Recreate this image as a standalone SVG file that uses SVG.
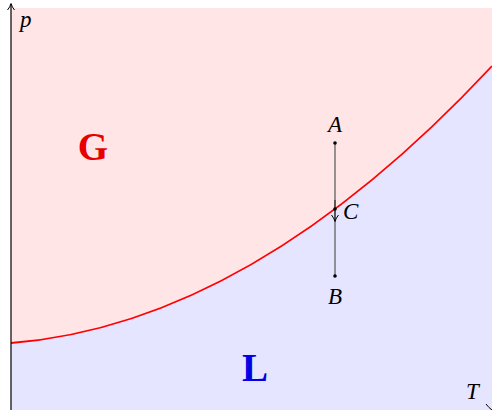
<svg xmlns="http://www.w3.org/2000/svg" width="492" height="410" viewBox="0 0 492 410">
<style>
.lbl{font-family:"Liberation Serif",serif;font-style:italic;font-size:23px;fill:#000}
.big{font-family:"Liberation Serif",serif;font-weight:bold;font-size:39px}
.dot{fill:#000}
</style>
<defs>
<marker id="ah" markerWidth="8" markerHeight="8" refX="6" refY="4" orient="auto" markerUnits="userSpaceOnUse">
<path d="M0,0.5 Q3,3 6.5,4 Q3,5 0,7.5" fill="none" stroke="#000" stroke-width="1"/>
</marker>
</defs>
<g id="regions">
<path d="M11,8 L492,8 L492,66 Q251.5,324 11,343 Z" fill="#ffe5e5"/>
<path d="M11,343 Q251.5,324 492,66 L492,410 L11,410 Z" fill="#e5e5ff"/>
</g>
<g id="curve">
<path d="M11,343 Q251.5,324 492,66" fill="none" stroke="#ff0000" stroke-width="1.8"/>
</g>
<g id="connectors">
<line x1="11" y1="410" x2="11" y2="4" stroke="#000" stroke-width="1.2" marker-end="url(#ah)"/>
<line x1="11" y1="410.5" x2="492" y2="410.5" stroke="#000" stroke-width="1.2"/>
<path d="M486,404 Q489,408 492,410" fill="none" stroke="#000" stroke-width="1"/>
<line x1="335" y1="143" x2="335" y2="276" stroke="#555" stroke-width="1.2"/>
<line x1="335" y1="200" x2="335" y2="221" stroke="#333" stroke-width="1.2" marker-end="url(#ah)"/>
</g>
<g id="A"><circle class="dot" cx="335" cy="143" r="1.8"/><text class="lbl" x="335" y="132" text-anchor="middle">A</text></g>
<g id="C"><circle class="dot" cx="335" cy="209" r="1.8"/><text class="lbl" x="343" y="219">C</text></g>
<g id="B"><circle class="dot" cx="335" cy="276" r="1.8"/><text class="lbl" x="335" y="304" text-anchor="middle">B</text></g>
<g id="p"><text class="lbl" x="20" y="27">p</text></g>
<g id="T"><text class="lbl" x="466" y="399">T</text></g>
<g id="G"><text class="big" x="93" y="160" text-anchor="middle" fill="#e60000">G</text></g>
<g id="L"><text class="big" x="255" y="381" text-anchor="middle" fill="#0000e6">L</text></g>
</svg>
